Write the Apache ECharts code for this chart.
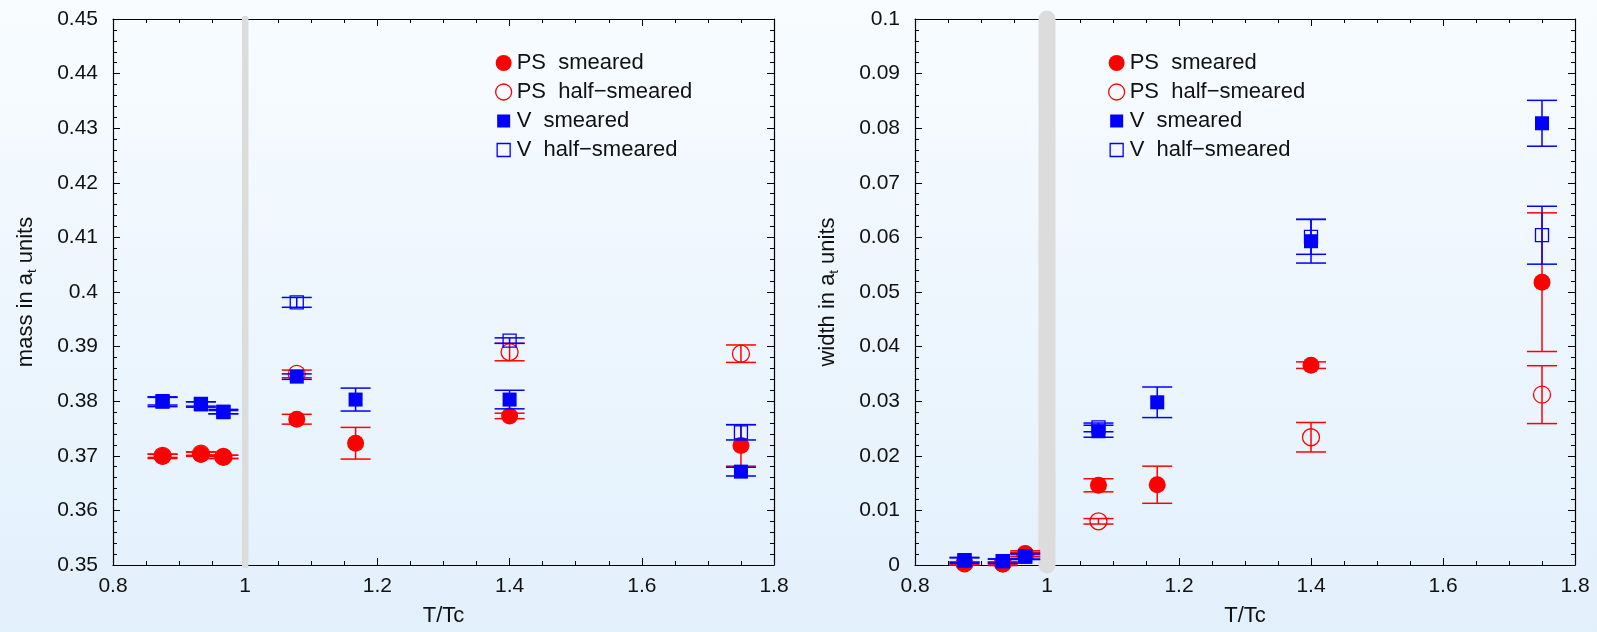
<!DOCTYPE html>
<html><head><meta charset="utf-8">
<script src="https://cdn.jsdelivr.net/npm/echarts@6/dist/echarts.min.js"></script>
<style>html,body{margin:0;padding:0;background:#eef6fd}#c{width:1597px;height:632px}</style>
</head><body><div id="c"></div>
<script>
// ---- data ----
const T = [0.875, 0.933, 0.967, 1.078, 1.167, 1.4, 1.75];
const TC_LINE = [1];

const seriesNames = ['PS  smeared', 'PS  half\u2212smeared', 'V  smeared', 'V  half\u2212smeared'];

// mass in a_t units
const massPSs = [0.3699, 0.3703, 0.3698, 0.3767, 0.3723, 0.3773, 0.3719];
const massPSsErr = [0.0004, 0.0004, 0.0003, 0.0009, 0.0029, 0.0005, 0.0038];
const massPSh = [0.3700, 0.3704, 0.3698, 0.3850, null, 0.3890, 0.3887];
const massPShErr = [0.0003, 0.0003, 0.0003, 0.0007, null, 0.0016, 0.0016];
const massVs = [0.3799, 0.3794, 0.3781, 0.3845, 0.3803, 0.3803, 0.3671];
const massVsErr = [0.0009, 0.0005, 0.0004, 0.0005, 0.0021, 0.0017, 0.0008];
const massVh = [0.3800, 0.3795, 0.3780, 0.3981, null, 0.3911, 0.3743];
const massVhErr = [0.0007, 0.0004, 0.0003, 0.0009, null, 0.0005, 0.0014];

// width in a_t units
const widthPSs = [0.0003, 0.0002, 0.0021, 0.0146, 0.0147, 0.0366, 0.0518];
const widthPSsErr = [0.0003, 0.0003, 0.0005, 0.0012, 0.0034, 0.0006, 0.0127];
const widthPSh = [0.0003, 0.0003, 0.0019, 0.0080, null, 0.0234, 0.0312];
const widthPShErr = [0.0003, 0.0003, 0.0004, 0.0005, null, 0.0027, 0.0053];
const widthVs = [0.0008, 0.0007, 0.0015, 0.0245, 0.0298, 0.0593, 0.0809];
const widthVsErr = [0.0005, 0.0004, 0.0005, 0.0011, 0.0028, 0.0040, 0.0042];
const widthVh = [0.0009, 0.0007, 0.0016, 0.0252, null, 0.0601, 0.0604];
const widthVhErr = [0.0005, 0.0004, 0.0005, 0.0008, null, 0.0032, 0.0053];

// axis ranges / ticks
const xRange = [0.8, 1.8, 0.2];
const massRange = [0.35, 0.45, 0.01];
const widthRange = [0, 0.1, 0.01];

// ---- styling ----
const FONT = "'Liberation Sans', Arial, Helvetica, sans-serif";
const RED = '#ff0000', BLUE = '#0000ff';
const styles = [
  {symbol: 'circle', size: 17, fill: RED, stroke: RED, bw: 0, color: RED},
  {symbol: 'circle', size: 17, fill: 'rgba(0,0,0,0)', stroke: RED, bw: 1.3, color: RED},
  {symbol: 'rect', size: 14, fill: BLUE, stroke: BLUE, bw: 0, color: BLUE},
  {symbol: 'rect', size: 13, fill: 'rgba(0,0,0,0)', stroke: BLUE, bw: 1.3, color: BLUE}
];
const SQ_ICON = 'path://M0,0M16,16M1.5,1.5L14.5,1.5L14.5,14.5L1.5,14.5Z';

function pts(vals, errs) {
  const out = [];
  T.forEach((t, i) => { if (vals[i] != null) out.push([t, vals[i], errs[i]]); });
  return out;
}

function errRender(color) {
  return function (params, api) {
    const x = api.value(0), y = api.value(1), e = api.value(2);
    const p = api.coord([x, y + e]);
    const q = api.coord([x, y - e]);
    const hw = 15;
    const st = {stroke: color, lineWidth: 1.5};
    return {type: 'group', children: [
      {type: 'line', shape: {x1: p[0], y1: p[1], x2: q[0], y2: q[1]}, style: st},
      {type: 'line', shape: {x1: p[0] - hw, y1: p[1], x2: p[0] + hw, y2: p[1]}, style: st},
      {type: 'line', shape: {x1: q[0] - hw, y1: q[1], x2: q[0] + hw, y2: q[1]}, style: st}
    ]};
  };
}

function bandSeries(gi, yr, w) {
  return {
    type: 'custom', name: 'Tc', xAxisIndex: gi * 2, yAxisIndex: gi * 2, z: 1, clip: false, silent: true,
    data: TC_LINE.map(v => [v]),
    renderItem: function (params, api) {
      const a = api.coord([api.value(0), yr[1]]);
      const b = api.coord([api.value(0), yr[0]]);
      return {type: 'line', shape: {x1: a[0], y1: a[1], x2: b[0], y2: b[1]},
        style: {stroke: '#dcdcdc', lineWidth: w, lineCap: 'round'}};
    }
  };
}

function plotSeries(gi, sets) {
  const out = [];
  sets.forEach((s, k) => {
    const st = styles[k];
    const d = pts(s[0], s[1]);
    out.push({
      type: 'custom', name: 'err' + k, xAxisIndex: gi * 2, yAxisIndex: gi * 2, z: 3 + k * 2, silent: true,
      data: d, encode: {x: 0, y: 1}, renderItem: errRender(st.color)
    });
    out.push({
      type: 'scatter', name: seriesNames[k], xAxisIndex: gi * 2, yAxisIndex: gi * 2, z: 4 + k * 2,
      symbol: st.symbol, symbolSize: st.size,
      data: d.map(p => [p[0], p[1]]),
      itemStyle: {color: st.fill, borderColor: st.stroke, borderWidth: st.bw, opacity: 1}
    });
  });
  return out;
}

function xAxes(gi) {
  const base = {
    gridIndex: gi, type: 'value', min: xRange[0], max: xRange[1], interval: xRange[2],
    axisLine: {show: true, onZero: false, lineStyle: {color: '#000', width: 1.2}},
    axisTick: {show: true, inside: true, length: 7, lineStyle: {color: '#000', width: 1}},
    minorTick: {show: true, splitNumber: 4, length: 4, lineStyle: {color: '#000', width: 1}},
    splitLine: {show: false}, minorSplitLine: {show: false}
  };
  return [
    Object.assign({}, base, {
      position: 'bottom',
      axisLabel: {fontSize: 21, color: '#111', fontFamily: FONT, margin: 11},
      name: 'T/Tc', nameLocation: 'middle', nameGap: 40,
      nameTextStyle: {fontSize: 22, color: '#111', fontFamily: FONT}
    }),
    Object.assign({}, base, {position: 'top', axisLabel: {show: false}})
  ];
}

function yAxes(gi, r, title) {
  const base = {
    gridIndex: gi, type: 'value', min: r[0], max: r[1], interval: r[2],
    axisLine: {show: true, onZero: false, lineStyle: {color: '#000', width: 1.2}},
    axisTick: {show: true, inside: true, length: 7, lineStyle: {color: '#000', width: 1}},
    minorTick: {show: true, splitNumber: 5, length: 4, lineStyle: {color: '#000', width: 1}},
    splitLine: {show: false}, minorSplitLine: {show: false}
  };
  return [
    Object.assign({}, base, {
      position: 'left',
      axisLabel: {fontSize: 21, color: '#111', fontFamily: FONT, margin: 15},
      name: title + ' in a{s|t} units', nameLocation: 'middle', nameGap: 74, nameRotate: 90,
      nameTextStyle: {fontSize: 22, color: '#111', fontFamily: FONT, lineHeight: 27,
        rich: {s: {fontSize: 13, color: '#111', fontFamily: FONT, verticalAlign: 'bottom', lineHeight: 13}}}
    }),
    Object.assign({}, base, {position: 'right', axisLabel: {show: false}})
  ];
}

function legendFor(left) {
  return {
    orient: 'vertical', left: left, top: 47, itemWidth: 16, itemHeight: 16, itemGap: 7,
    selectedMode: false,
    textStyle: {fontSize: 22, color: '#111', fontFamily: FONT, lineHeight: 21},
    data: seriesNames.map((n, k) => ({
      name: n,
      icon: styles[k].symbol === 'circle' ? 'circle' : SQ_ICON,
      itemStyle: {color: styles[k].fill, borderColor: styles[k].stroke, borderWidth: styles[k].bw}
    }))
  };
}

const chart = echarts.init(document.getElementById('c'), null, {renderer: 'canvas'});
chart.setOption({
  animation: false,
  backgroundColor: {type: 'linear', x: 0, y: 0, x2: 0, y2: 1,
    colorStops: [{offset: 0, color: '#f8fcff'}, {offset: 1, color: '#e2f0fc'}]},
  grid: [
    {left: 113, top: 19, width: 661, height: 550},
    {left: 915, top: 19, width: 660, height: 550}
  ],
  xAxis: xAxes(0).concat(xAxes(1)),
  yAxis: yAxes(0, massRange, 'mass').concat(yAxes(1, widthRange, 'width')),
  legend: [legendFor(490), legendFor(1103)],
  series: [bandSeries(0, massRange, 6.5)]
    .concat(plotSeries(0, [[massPSs, massPSsErr], [massPSh, massPShErr], [massVs, massVsErr], [massVh, massVhErr]]))
    .concat([bandSeries(1, widthRange, 17)])
    .concat(plotSeries(1, [[widthPSs, widthPSsErr], [widthPSh, widthPShErr], [widthVs, widthVsErr], [widthVh, widthVhErr]]))
});
</script>
</body></html>
